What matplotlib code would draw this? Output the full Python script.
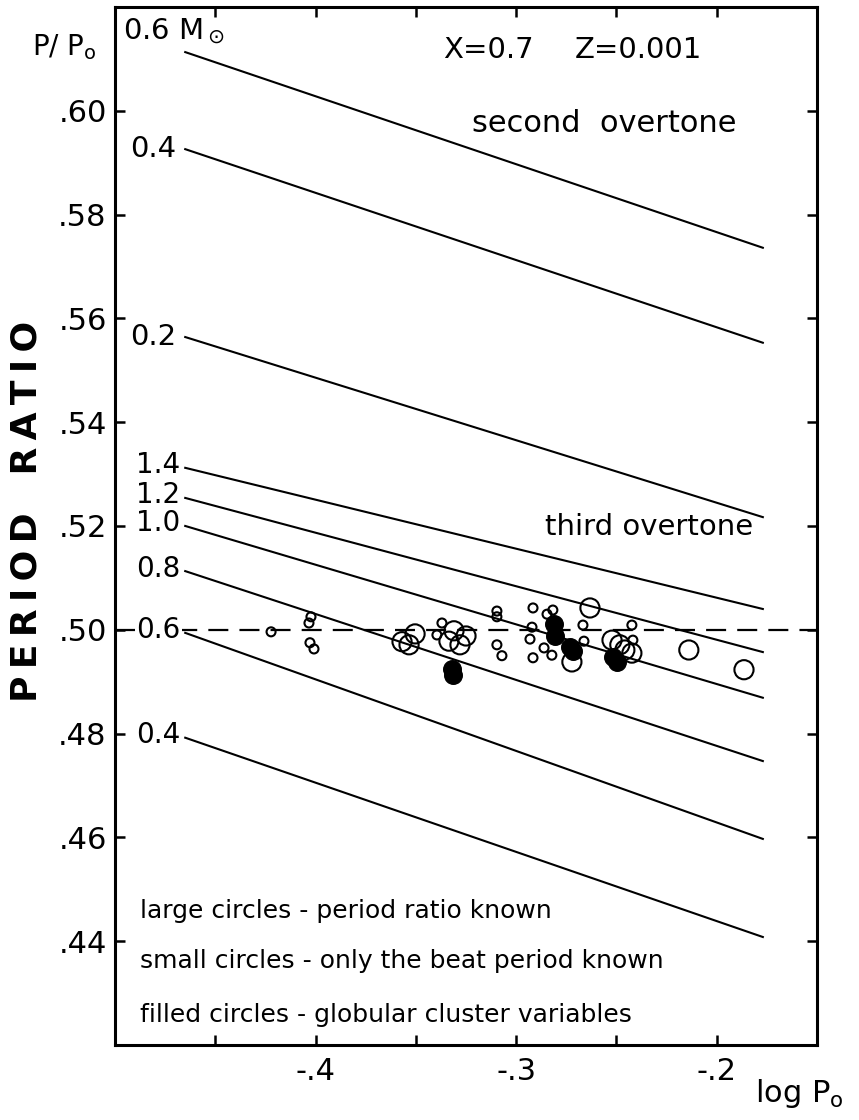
import matplotlib
matplotlib.use('Agg')
import matplotlib.pyplot as plt

plt.rcParams['font.family'] = ['DejaVu Sans']
plt.rcParams['mathtext.fontset'] = 'dejavusans'

# model sequences: log P0 range and P/P0 at both ends
line_x = [-0.465, -0.177]
second_masses = ['0.4', '0.2']
second_start = [0.6113, 0.5926, 0.5564]
second_end = [0.5736, 0.5553, 0.5217]
third_masses = ['1.4', '1.2', '1.0', '0.8', '0.6', '0.4']
third_start = [0.5312, 0.5254, 0.5200, 0.5113, 0.4994, 0.4792]
third_end = [0.5040, 0.4957, 0.4869, 0.4747, 0.4597, 0.4408]

# observed stars
large_x = [-0.3569, -0.3534, -0.3504, -0.3310, -0.3250, -0.3335, -0.3280,
           -0.2632, -0.2722, -0.2522, -0.2483, -0.2423, -0.2458, -0.2139, -0.1864]
large_y = [0.4977, 0.4971, 0.4992, 0.4998, 0.4988, 0.4978, 0.4971,
           0.5042, 0.4938, 0.4980, 0.4971, 0.4955, 0.4961, 0.4961, 0.4923]
small_x = [-0.4222, -0.4023, -0.4033, -0.4028, -0.4008, -0.3370, -0.3395,
           -0.3096, -0.3096, -0.3096, -0.3071, -0.2916, -0.2846, -0.2817,
           -0.2921, -0.2931, -0.2861, -0.2822, -0.2916, -0.2667, -0.2662,
           -0.2423, -0.2418]
small_y = [0.4996, 0.5025, 0.5013, 0.4975, 0.4963, 0.5013, 0.4990,
           0.5036, 0.5025, 0.4971, 0.4950, 0.5042, 0.5030, 0.5038,
           0.5005, 0.4982, 0.4965, 0.4951, 0.4946, 0.5009, 0.4978,
           0.5009, 0.4980]
filled_x = [-0.3320, -0.3315, -0.2812, -0.2807, -0.2732, -0.2717, -0.2517, -0.2497]
filled_y = [0.4924, 0.4913, 0.5011, 0.4988, 0.4967, 0.4959, 0.4948, 0.4938]

xticks = [-0.45, -0.40, -0.35, -0.30, -0.25, -0.20]
xtick_labels = ['', '-.4', '', '-.3', '', '-.2']
yticks = [0.44, 0.46, 0.48, 0.50, 0.52, 0.54, 0.56, 0.58, 0.60]
ytick_labels = ['.44', '.46', '.48', '.50', '.52', '.54', '.56', '.58', '.60']

legend_lines = ['large circles - period ratio known',
                'small circles - only the beat period known',
                'filled circles - globular cluster variables']

fig = plt.figure(figsize=(8.59, 11.2), dpi=100)
ax = fig.add_axes([0.1339, 0.0670, 0.8172, 0.9268])
ax.set_xlim(-0.50, -0.15)
ax.set_ylim(0.42, 0.62)

for y0, y1 in zip(second_start, second_end):
    ax.plot(line_x, [y0, y1], color='black', lw=1.5)
for y0, y1 in zip(third_start, third_end):
    ax.plot(line_x, [y0, y1], color='black', lw=1.5)
ax.axhline(0.50, color='black', lw=1.6, linestyle=(0, (9, 5)), zorder=1)

ax.scatter(large_x, large_y, s=190, facecolors='none', edgecolors='black',
           linewidths=1.5, zorder=3)
ax.scatter(small_x, small_y, s=42, facecolors='none', edgecolors='black',
           linewidths=1.5, zorder=3)
ax.scatter(filled_x, filled_y, s=160, color='black', zorder=4)

# mass labels
ax.text(-0.496, 0.6154, '0.6 M$_\\odot$', fontsize=21, ha='left', va='center')
for lab, y0 in zip(second_masses, second_start[1:]):
    ax.text(-0.4695, y0, lab, fontsize=21, ha='right', va='center')
for lab, y0 in zip(third_masses, third_start):
    box = dict(fc='white', ec='none', pad=1) if lab == '0.6' else None
    ax.text(-0.4675, y0 + 0.0005, lab, fontsize=20, ha='right', va='center',
            bbox=box, zorder=2)

ax.text(-0.322, 0.5959, 'second  overtone', fontsize=22, ha='left', va='baseline')
ax.text(-0.2856, 0.5183, 'third overtone', fontsize=21, ha='left', va='baseline')
ax.text(-0.3365, 0.6102, 'X=0.7', fontsize=21, ha='left', va='baseline')
ax.text(-0.2707, 0.6102, 'Z=0.001', fontsize=21, ha='left', va='baseline')

for txt, yb in zip(legend_lines, [0.4445, 0.4348, 0.4244]):
    ax.text(-0.4875, yb, txt, fontsize=18, ha='left', va='baseline')

ax.set_xticks(xticks)
ax.set_xticklabels(xtick_labels, fontsize=22)
ax.set_yticks(yticks)
ax.set_yticklabels(ytick_labels, fontsize=22)
ax.tick_params(direction='in', length=7, width=1.8, top=True, right=True)
ax.tick_params(axis='x', pad=9)
ax.tick_params(axis='y', pad=6)
for sp in ax.spines.values():
    sp.set_linewidth(2.2)

fig.text(32 / 859, 1 - 55 / 1120, 'P/ P$_\\mathregular{o}$', fontsize=20,
         ha='left', va='baseline')
fig.text(755 / 859, 1 - 1102 / 1120, 'log P$_\\mathregular{o}$', fontsize=22,
         ha='left', va='baseline')
fig.text(0.031, 0.543,
         'P\u2009E\u2009R\u2009I\u2009O\u2009D   R\u2009A\u2009T\u2009I\u2009O',
         rotation=90, fontsize=26, fontweight='bold', ha='center', va='center')

fig.savefig('out.png', dpi=100)
